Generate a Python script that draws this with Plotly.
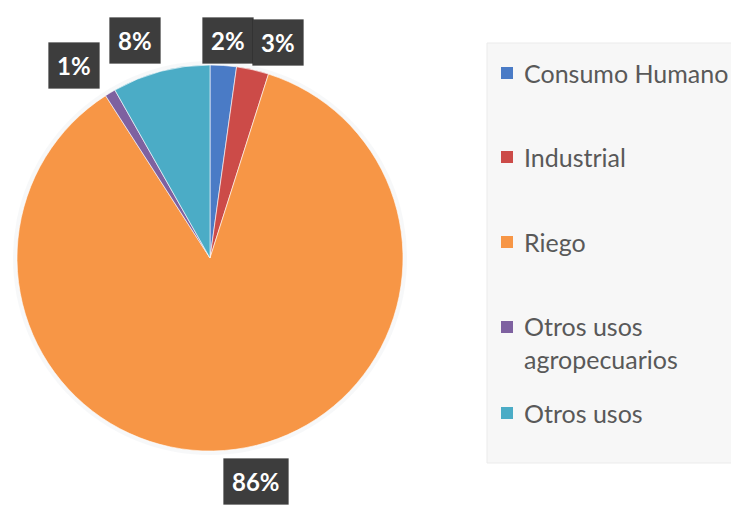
import math
import plotly.graph_objects as go

# ---- data ----
labels = ["Consumo Humano", "Industrial", "Riego", "Otros usos agropecuarios", "Otros usos"]
legend_text = ["Consumo Humano", "Industrial", "Riego", "Otros usos<br>agropecuarios", "Otros usos"]
values = [2.2, 2.7, 86.0, 0.9, 8.2]

# ---- style ----
colors = ["#4A7BC6", "#CC4B48", "#F79646", "#7E61A0", "#4BACC6"]
W, H = 739, 508
OFF = 8  # page body margin
cx, cy, R = 210, 258, 193
label_nudge_deg = [0.7, 4.7, -4.1, -4.1, -4.2]
label_rad = [1.13, 1.17, 1.18, 1.22, 1.19]
legend_y = [73, 157, 242, 327, 413]

def px(x):
    return (x - OFF) / W

def py(y):
    return 1 - (y - OFF) / H

fig = go.Figure()
fig.add_trace(go.Pie(
    labels=labels, values=values, sort=False, direction="clockwise", rotation=0,
    marker=dict(colors=colors, line=dict(color="white", width=0.6)),
    textinfo="none", showlegend=False, hoverinfo="label+percent",
    domain=dict(x=[px(cx - R), px(cx + R)], y=[py(cy + R), py(cy - R)]),
))

total = sum(values)
annotations = []
cum = 0
for i, v in enumerate(values):
    mid = (cum + v / 2) / total * 360 + label_nudge_deg[i]
    cum += v
    d = R * label_rad[i]
    x = cx + d * math.sin(math.radians(mid))
    y = cy - d * math.cos(math.radians(mid))
    annotations.append(dict(
        x=px(x), y=py(y), xref="paper", yref="paper", showarrow=False,
        text=f"<b>{round(v / total * 100)}%</b>",
        font=dict(family="Lato", size=24, color="white"),
        bgcolor="#3D3D3D", bordercolor="rgba(0,0,0,0.15)", borderwidth=1,
        borderpad=8, xanchor="center", yanchor="middle",
    ))

shapes = [
    dict(type="circle", xref="paper", yref="paper", layer="below",
         x0=px(cx - R - 4), x1=px(cx + R + 4), y0=py(cy + R + 4), y1=py(cy - R - 4),
         fillcolor="rgba(140,150,170,0.07)", line=dict(width=0)),
    dict(type="rect", xref="paper", yref="paper",
         x0=px(487), x1=px(738), y0=py(463), y1=py(43),
         fillcolor="#F7F7F7", line=dict(color="#EBEBEB", width=1), layer="below"),
]
for i, lt in enumerate(legend_text):
    yc = legend_y[i]
    shapes.append(dict(type="rect", xref="paper", yref="paper",
                       x0=px(501), x1=px(513), y0=py(yc + 6), y1=py(yc - 6),
                       fillcolor=colors[i], line=dict(width=0)))
    multi = "<br>" in lt
    annotations.append(dict(
        x=px(522), y=py(yc - 18 if multi else yc), xref="paper", yref="paper",
        showarrow=False, text=lt, align="left", xanchor="left",
        yanchor="top" if multi else "middle",
        font=dict(family="Lato", size=25, color="#595959"),
    ))

fig.update_layout(
    width=W, height=H, margin=dict(l=0, r=0, t=0, b=0),
    paper_bgcolor="white", plot_bgcolor="white",
    annotations=annotations, shapes=shapes,
)
fig.write_html("out.html")
